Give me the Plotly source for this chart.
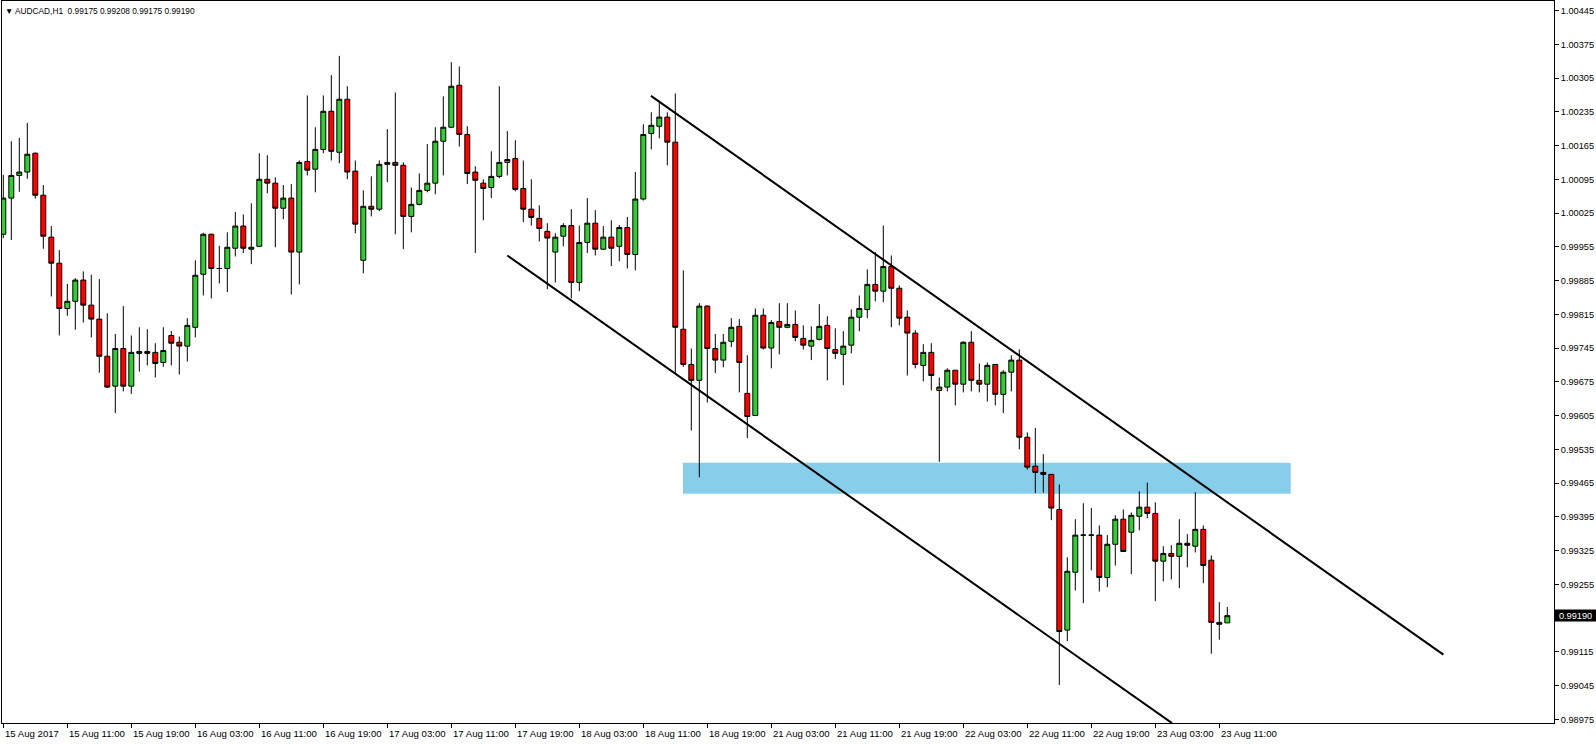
import plotly.graph_objects as go

# ---- data (AUDCAD H1, bars from 15 Aug 2017 03:00) ----
opens = [
    0.99981, 1.00056, 1.00103, 1.00110, 1.00149, 1.00062, 0.99975, 0.99921, 0.99827, 0.99842,
    0.99886, 0.99834, 0.99805, 0.99728, 0.99666, 0.99744, 0.99666, 0.99734, 0.99738, 0.99736,
    0.99715, 0.99771, 0.99757, 0.99749, 0.99788, 0.99898, 0.99981, 0.99910, 0.99910, 0.99952,
    0.99998, 0.99950, 0.99956, 1.00095, 1.00087, 1.00035, 1.00056, 0.99944, 1.00132, 1.00116,
    1.00157, 1.00236, 1.00151, 1.00261, 1.00112, 0.99927, 1.00039, 1.00033, 1.00126, 1.00130,
    1.00124, 1.00018, 1.00043, 1.00072, 1.00087, 1.00174, 1.00203, 1.00290, 1.00188, 1.00110,
    1.00087, 1.00078, 1.00101, 1.00130, 1.00138, 1.00076, 1.00033, 1.00014, 0.99987, 0.99944,
    0.99977, 0.99999, 0.99881, 0.99964, 1.00004, 0.99950, 0.99975, 0.99956, 0.99995, 0.99939,
    1.00054, 1.00190, 1.00205, 1.00224, 1.00172, 0.99784, 0.99711, 0.99678, 0.99832, 0.99744,
    0.99720, 0.99759, 0.99790, 0.99651, 0.99605, 0.99813, 0.99745, 0.99800, 0.99788, 0.99794,
    0.99765, 0.99749, 0.99763, 0.99792, 0.99742, 0.99732, 0.99751, 0.99809, 0.99825, 0.99877,
    0.99863, 0.99914, 0.99869, 0.99809, 0.99776, 0.99709, 0.99736, 0.99657, 0.99664, 0.99699,
    0.99670, 0.99757, 0.99678, 0.99670, 0.99711, 0.99649, 0.99695, 0.99720, 0.99560, 0.99500,
    0.99487, 0.99483, 0.99410, 0.99160, 0.99280, 0.99357, 0.99357, 0.99357, 0.99269, 0.99338,
    0.99390, 0.99363, 0.99396, 0.99415, 0.99402, 0.99303, 0.99319, 0.99313, 0.99340, 0.99334,
    0.99369, 0.99305, 0.99176, 0.99175,
]
highs = [
    1.00104, 1.00174, 1.00181, 1.00212, 1.00151, 1.00083, 0.99998, 0.99948, 0.99878, 0.99890,
    0.99904, 0.99897, 0.99888, 0.99817, 0.99774, 0.99832, 0.99771, 0.99788, 0.99784, 0.99755,
    0.99788, 0.99780, 0.99769, 0.99807, 0.99927, 0.99984, 0.99982, 0.99957, 0.99985, 1.00027,
    1.00022, 1.00045, 1.00149, 1.00145, 1.00099, 1.00083, 1.00085, 1.00134, 1.00269, 1.00203,
    1.00269, 1.00311, 1.00351, 1.00288, 1.00134, 1.00072, 1.00101, 1.00134, 1.00199, 1.00275,
    1.00130, 1.00078, 1.00107, 1.00168, 1.00203, 1.00267, 1.00338, 1.00329, 1.00205, 1.00122,
    1.00095, 1.00153, 1.00288, 1.00195, 1.00176, 1.00134, 1.00095, 1.00041, 1.00004, 0.99983,
    1.00004, 1.00033, 0.99999, 1.00056, 1.00031, 0.99998, 1.00010, 1.00000, 1.00017, 1.00110,
    1.00209, 1.00234, 1.00253, 1.00234, 1.00273, 0.99906, 0.99744, 0.99838, 0.99834, 0.99774,
    0.99774, 0.99807, 0.99805, 0.99730, 0.99827, 0.99827, 0.99803, 0.99838, 0.99838, 0.99823,
    0.99792, 0.99790, 0.99836, 0.99811, 0.99786, 0.99780, 0.99825, 0.99854, 0.99908, 0.99944,
    0.99999, 0.99937, 0.99875, 0.99823, 0.99782, 0.99753, 0.99755, 0.99684, 0.99703, 0.99699,
    0.99759, 0.99780, 0.99713, 0.99715, 0.99711, 0.99699, 0.99730, 0.99742, 0.99570, 0.99579,
    0.99525, 0.99483, 0.99462, 0.99311, 0.99390, 0.99423, 0.99413, 0.99377, 0.99357, 0.99398,
    0.99410, 0.99404, 0.99448, 0.99466, 0.99425, 0.99334, 0.99336, 0.99390, 0.99359, 0.99446,
    0.99377, 0.99315, 0.99218, 0.99208,
]
lows = [
    0.99973, 0.99969, 1.00069, 1.00096, 1.00055, 0.99951, 0.99852, 0.99771, 0.99812, 0.99783,
    0.99798, 0.99767, 0.99694, 0.99662, 0.99610, 0.99655, 0.99650, 0.99696, 0.99709, 0.99684,
    0.99706, 0.99709, 0.99690, 0.99717, 0.99767, 0.99854, 0.99848, 0.99879, 0.99861, 0.99935,
    0.99942, 0.99919, 0.99955, 1.00066, 0.99954, 1.00012, 0.99856, 0.99877, 1.00103, 1.00068,
    1.00149, 1.00134, 1.00128, 1.00095, 0.99983, 0.99900, 1.00018, 1.00029, 1.00089, 0.99981,
    0.99950, 0.99985, 1.00041, 1.00068, 1.00064, 1.00103, 1.00201, 1.00163, 1.00085, 0.99942,
    1.00010, 1.00056, 1.00097, 1.00103, 1.00070, 1.00006, 0.99999, 0.99966, 0.99867, 0.99881,
    0.99956, 0.99848, 0.99863, 0.99942, 0.99937, 0.99948, 0.99915, 0.99925, 0.99910, 0.99906,
    1.00051, 1.00157, 1.00180, 1.00124, 0.99693, 0.99706, 0.99574, 0.99477, 0.99632, 0.99693,
    0.99705, 0.99747, 0.99653, 0.99558, 0.99604, 0.99742, 0.99703, 0.99732, 0.99786, 0.99759,
    0.99742, 0.99720, 0.99761, 0.99678, 0.99722, 0.99668, 0.99734, 0.99780, 0.99807, 0.99842,
    0.99840, 0.99788, 0.99792, 0.99688, 0.99703, 0.99676, 0.99657, 0.99509, 0.99655, 0.99626,
    0.99653, 0.99655, 0.99653, 0.99634, 0.99626, 0.99610, 0.99655, 0.99535, 0.99493, 0.99444,
    0.99445, 0.99388, 0.99046, 0.99137, 0.99242, 0.99216, 0.99284, 0.99240, 0.99249, 0.99294,
    0.99323, 0.99276, 0.99367, 0.99392, 0.99220, 0.99261, 0.99265, 0.99247, 0.99290, 0.99321,
    0.99257, 0.99111, 0.99140, 0.99175,
]
closes = [
    1.00056, 1.00103, 1.00110, 1.00147, 1.00062, 0.99977, 0.99921, 0.99827, 0.99842, 0.99886,
    0.99834, 0.99805, 0.99728, 0.99664, 0.99744, 0.99666, 0.99736, 0.99738, 0.99734, 0.99713,
    0.99740, 0.99755, 0.99749, 0.99792, 0.99896, 0.99981, 0.99910, 0.99910, 0.99954, 0.99998,
    0.99952, 0.99954, 1.00095, 1.00087, 1.00035, 1.00056, 0.99944, 1.00130, 1.00114, 1.00157,
    1.00236, 1.00153, 1.00261, 1.00110, 1.00002, 1.00039, 1.00033, 1.00126, 1.00130, 1.00124,
    1.00018, 1.00043, 1.00072, 1.00087, 1.00174, 1.00203, 1.00288, 1.00188, 1.00107, 1.00093,
    1.00076, 1.00101, 1.00130, 1.00136, 1.00074, 1.00033, 1.00016, 0.99993, 0.99973, 0.99975,
    0.99999, 0.99881, 0.99964, 1.00004, 0.99950, 0.99975, 0.99952, 0.99995, 0.99939, 1.00054,
    1.00188, 1.00207, 1.00224, 1.00172, 0.99788, 0.99711, 0.99678, 0.99832, 0.99744, 0.99720,
    0.99757, 0.99788, 0.99715, 0.99603, 0.99813, 0.99745, 0.99798, 0.99788, 0.99794, 0.99767,
    0.99751, 0.99761, 0.99790, 0.99744, 0.99734, 0.99749, 0.99809, 0.99827, 0.99877, 0.99863,
    0.99914, 0.99869, 0.99807, 0.99776, 0.99711, 0.99736, 0.99688, 0.99664, 0.99699, 0.99670,
    0.99757, 0.99678, 0.99670, 0.99709, 0.99649, 0.99695, 0.99720, 0.99560, 0.99498, 0.99487,
    0.99483, 0.99413, 0.99157, 0.99282, 0.99357, 0.99357, 0.99357, 0.99269, 0.99338, 0.99390,
    0.99323, 0.99398, 0.99415, 0.99402, 0.99303, 0.99319, 0.99313, 0.99340, 0.99336, 0.99369,
    0.99294, 0.99176, 0.99172, 0.99190,
]

x_tick_labels = [
    "15 Aug 2017", "15 Aug 11:00", "15 Aug 19:00", "16 Aug 03:00", "16 Aug 11:00",
    "16 Aug 19:00", "17 Aug 03:00", "17 Aug 11:00", "17 Aug 19:00", "18 Aug 03:00",
    "18 Aug 11:00", "18 Aug 19:00", "21 Aug 03:00", "21 Aug 11:00", "21 Aug 19:00",
    "22 Aug 03:00", "22 Aug 11:00", "22 Aug 19:00", "23 Aug 03:00", "23 Aug 11:00",
]
bars_per_label = 8

y_tick_values = [
    0.98975, 0.99045, 0.99115, 0.99185, 0.99255, 0.99325, 0.99395, 0.99465, 0.99535, 0.99605,
    0.99675, 0.99745, 0.99815, 0.99885, 0.99955, 1.00025, 1.00095, 1.00165, 1.00235, 1.00305,
    1.00375, 1.00445,
]
current_price = 0.99190
title_text = "AUDCAD,H1  0.99175 0.99208 0.99175 0.99190"

# drawn objects (bar index, price)
zone_x = [84.96, 160.93]
zone_y = [0.99443, 0.99507]
upper_line_x = [80.96, 180.01]
upper_line_y = [1.00268, 0.99109]
lower_line_x = [63.0, 146.09]
lower_line_y = [0.99937, 0.98967]

x_range = [-0.1625, 193.8375]
y_range = [0.989673, 1.004648]

FONT = "Liberation Sans, Arial, sans-serif"

bar_index = list(range(len(opens)))

fig = go.Figure()
fig.add_trace(go.Candlestick(
    x=bar_index, open=opens, high=highs, low=lows, close=closes,
    increasing=dict(fillcolor="#32CD32", line=dict(color="black", width=1)),
    decreasing=dict(fillcolor="#FF0000", line=dict(color="black", width=1)),
    whiskerwidth=0, hoverinfo="skip", showlegend=False,
))

shapes = [
    dict(type="rect", xref="x", yref="y", x0=zone_x[0], x1=zone_x[1], y0=zone_y[0], y1=zone_y[1],
         fillcolor="#87CEEB", line=dict(width=0), layer="below"),
    dict(type="line", xref="x", yref="y", x0=upper_line_x[0], x1=upper_line_x[1],
         y0=upper_line_y[0], y1=upper_line_y[1], line=dict(color="black", width=2), layer="above"),
    dict(type="line", xref="x", yref="y", x0=lower_line_x[0], x1=lower_line_x[1],
         y0=lower_line_y[0], y1=lower_line_y[1], line=dict(color="black", width=2), layer="above"),
]

tick_positions = [i * bars_per_label for i in range(len(x_tick_labels))]

annotations = []
for pos, lab in zip(tick_positions, x_tick_labels):
    annotations.append(dict(
        x=pos, y=0, xref="x", yref="paper", text=lab, showarrow=False,
        xanchor="left", yanchor="middle", xshift=0, yshift=-10,
        font=dict(family=FONT, size=9.6, color="black"),
    ))

annotations.append(dict(
    x=1, y=current_price, xref="paper", yref="y", text="%.5f" % current_price,
    showarrow=False, xanchor="left", yanchor="middle", bgcolor="black",
    font=dict(family=FONT, size=9.2, color="white"), borderpad=0, width=41, height=11,
))

annotations.append(dict(
    x=0, y=1, xref="paper", yref="paper", text="\u25BC " + title_text, showarrow=False,
    xanchor="left", yanchor="top", xshift=1, yshift=-3,
    font=dict(family=FONT, size=8.3, color="black"),
))

fig.update_layout(
    width=1596, height=744,
    margin=dict(l=2, r=42, t=1, b=21),
    paper_bgcolor="white", plot_bgcolor="white",
    showlegend=False,
    boxgap=0.38, boxgroupgap=0,
    shapes=shapes, annotations=annotations,
    xaxis=dict(
        range=x_range, rangeslider=dict(visible=False), showgrid=False, zeroline=False,
        tickmode="array", tickvals=tick_positions, showticklabels=False,
        ticks="outside", ticklen=4, tickcolor="black", tickwidth=1,
        showline=True, linecolor="black", linewidth=1, mirror=True,
    ),
    yaxis=dict(
        range=y_range, side="right", showgrid=False, zeroline=False,
        tickmode="array", tickvals=y_tick_values, ticktext=["%.5f" % v for v in y_tick_values],
        ticks="outside", ticklen=4, tickcolor="black", tickwidth=1,
        tickfont=dict(family=FONT, size=9.2, color="black"),
        showline=True, linecolor="black", linewidth=1, mirror=True,
    ),
)

fig.write_html(
    "out.html",
    config={"displayModeBar": False},
    post_script="document.body.style.margin='0px';document.body.style.overflow='hidden';",
)
